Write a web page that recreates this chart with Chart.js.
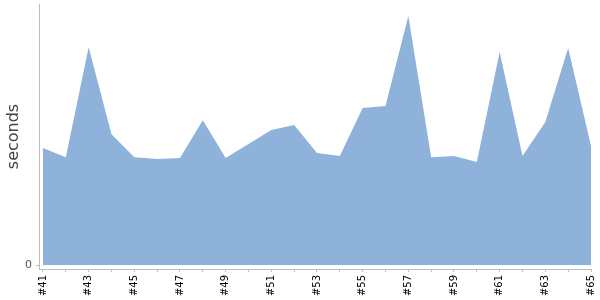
<!DOCTYPE html>
<html>
<head>
<meta charset="utf-8">
<script src="https://cdn.jsdelivr.net/npm/chart.js@4"></script>
<style>
  html, body { margin: 0; padding: 0; background: #fff; }
  #wrap { width: 600px; height: 300px; }
</style>
</head>
<body>
<div id="wrap"><canvas id="buildChart"></canvas></div>
<script>
// build numbers on the x axis (#41 ... #65)
const builds = [41, 42, 43, 44, 45, 46, 47, 48, 49, 50, 51, 52, 53, 54, 55, 56, 57, 58, 59, 60, 61, 62, 63, 64, 65];
// build duration, seconds (axis has no scale besides 0)
const seconds = [44.8, 41.3, 83.4, 50.1, 41.3, 40.6, 41.0, 55.5, 41.0, 46.4, 51.7, 53.6, 42.9, 41.8, 60.2, 60.9, 95.4, 41.3, 41.8, 39.5, 81.6, 41.8, 54.8, 83.1, 45.6];
const yTicks = [0];

const axisColor = "#bdbdbd";

new Chart(document.getElementById("buildChart"), {
  type: "line",
  data: {
    datasets: [{
      label: "seconds",
      data: builds.map((b, i) => ({ x: b, y: seconds[i] })),
      fill: "origin",
      backgroundColor: "rgb(143,178,218)",
      borderWidth: 0,
      pointRadius: 0,
      tension: 0
    }]
  },
  options: {
    responsive: true,
    maintainAspectRatio: false,
    animation: false,
    layout: { padding: { top: 4, right: 9, left: 0, bottom: 0 } },
    plugins: { legend: { display: false }, tooltip: { enabled: false } },
    scales: {
      x: {
        type: "linear",
        min: 40.825,
        max: 65,
        afterFit: s => { s.height = 31; s.paddingRight = 0; s.paddingLeft = 0; },
        border: { color: axisColor },
        grid: { drawOnChartArea: false, color: axisColor, tickLength: 3 },
        ticks: {
          stepSize: 1,
          includeBounds: false,
          autoSkip: false,
          minRotation: 90,
          maxRotation: 90,
          padding: 3,
          color: "#000",
          font: { family: "DejaVu Sans", size: 10 },
          callback: v => (v % 2 === 1 ? "#" + v : "")
        }
      },
      y: {
        min: -1.53,
        max: 100,
        afterFit: s => { s.width = 39; s.paddingTop = 0; s.paddingBottom = 0; },
        afterBuildTicks: s => { s.ticks = yTicks.map(v => ({ value: v })); },
        border: { color: axisColor },
        grid: { drawOnChartArea: false, color: axisColor, tickLength: 3 },
        ticks: {
          padding: 4,
          color: "#555",
          font: { family: "DejaVu Sans", size: 11 }
        },
        title: {
          display: true,
          text: "seconds",
          color: "#444",
          font: { family: "DejaVu Sans", size: 16 },
          padding: { top: 4, bottom: 4 }
        }
      }
    }
  }
});
</script>
</body>
</html>
